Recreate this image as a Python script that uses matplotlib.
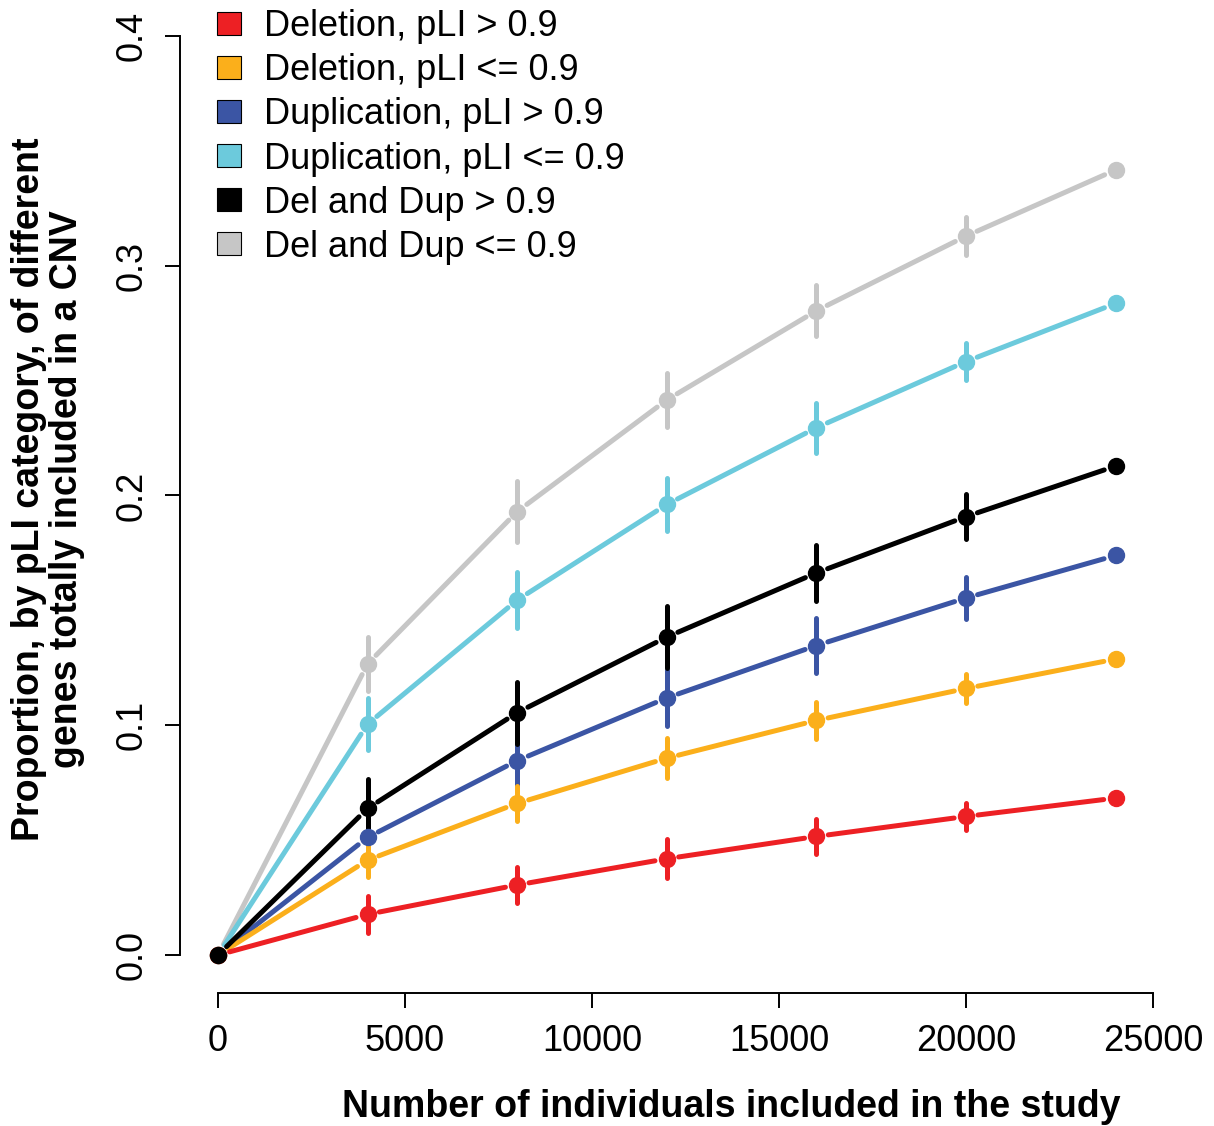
import matplotlib
matplotlib.use("Agg")
import matplotlib.pyplot as plt
from matplotlib.patches import Patch
import numpy as np

plt.rcParams["font.family"] = ["Liberation Sans", "DejaVu Sans"]

# sample sizes and proportions
n_indiv = [0, 4000, 8000, 12000, 16000, 20000, 24000]

del_hi = [0, 0.0177, 0.0305, 0.0419, 0.0516, 0.0603, 0.0683]
del_hi_err = [0, 0.0080, 0.0080, 0.0086, 0.0076, 0.0060, 0]
del_lo = [0, 0.0413, 0.0660, 0.0857, 0.1021, 0.1160, 0.1288]
del_lo_err = [0, 0.0075, 0.0076, 0.0086, 0.0082, 0.0065, 0]
dup_hi = [0, 0.0512, 0.0846, 0.1119, 0.1347, 0.1554, 0.1739]
dup_hi_err = [0, 0.0110, 0.0113, 0.0121, 0.0121, 0.0091, 0]
dup_lo = [0, 0.1005, 0.1545, 0.1961, 0.2295, 0.2583, 0.2836]
dup_lo_err = [0, 0.0112, 0.0122, 0.0117, 0.0109, 0.0082, 0]
both_hi = [0, 0.0638, 0.1055, 0.1384, 0.1663, 0.1908, 0.2128]
both_hi_err = [0, 0.0128, 0.0135, 0.0135, 0.0121, 0.0097, 0]
both_lo = [0, 0.1267, 0.1930, 0.2416, 0.2804, 0.3129, 0.3417]
both_lo_err = [0, 0.0116, 0.0131, 0.0117, 0.0111, 0.0083, 0]

labels = ["Deletion, pLI > 0.9", "Deletion, pLI <= 0.9",
          "Duplication, pLI > 0.9", "Duplication, pLI <= 0.9",
          "Del and Dup > 0.9", "Del and Dup <= 0.9"]
colors = ["#ED2024", "#FBAF1B", "#3B55A4", "#6CCADC", "#000000", "#C6C6C6"]
series = [del_hi, del_lo, dup_hi, dup_lo, both_hi, both_lo]
errors = [del_hi_err, del_lo_err, dup_hi_err, dup_lo_err, both_hi_err, both_lo_err]

LW = 3.6
GAP = 12  # px, R type="b" style gap between line and point

W, H = 1214, 1126
fig = plt.figure(figsize=(W / 100, H / 100), dpi=100)
ax = fig.add_axes([180 / W, 1 - 993 / H, (1153 - 180) / W, (993 - 36) / H])
ax.set_xlim(-1016, 25000)
ax.set_ylim(-0.01654, 0.4)

inv = ax.transData.inverted()


def gapped_line(xs, ys, color):
    pts = ax.transData.transform(np.column_stack([xs, ys]))
    for p, q in zip(pts[:-1], pts[1:]):
        d = q - p
        u = d / np.hypot(*d)
        a, b = inv.transform([p + u * GAP, q - u * GAP])
        ax.plot([a[0], b[0]], [a[1], b[1]], color=color, lw=LW,
                solid_capstyle="round", zorder=2)


# black drawn last so its dot sits on top at the origin
order = [5, 3, 2, 1, 0, 4]
for k in order:
    xs = np.array(n_indiv, float)
    ys = np.array(series[k])
    es = np.array(errors[k])
    gapped_line(xs, ys, colors[k])
    m = es > 0
    vl = ax.vlines(xs[m], ys[m] - es[m], ys[m] + es[m], color=colors[k],
                   lw=LW, zorder=3)
    vl.set_capstyle("round")
    ax.plot(xs, ys, "o", ms=11.5, color=colors[k], mec=colors[k], zorder=4)

for s in ["top", "right"]:
    ax.spines[s].set_visible(False)
ax.spines["left"].set_bounds(0, 0.4)
ax.spines["bottom"].set_bounds(0, 25000)
for s in ["left", "bottom"]:
    ax.spines[s].set_linewidth(1.4)

ax.set_xticks([0, 5000, 10000, 15000, 20000, 25000])
ax.set_yticks([0.0, 0.1, 0.2, 0.3, 0.4])
ax.set_yticklabels(["0.0", "0.1", "0.2", "0.3", "0.4"])
ax.tick_params(length=11, width=1.4, labelsize=26, pad=11)
ax.tick_params(axis="y", labelrotation=90)
for t in ax.get_yticklabels():
    t.set_va("center")

fig.text(731 / W, 1 - 1107 / H, "Number of individuals included in the study",
         ha="center", va="center", fontsize=27, fontweight="bold")
fig.text(48 / W, 1 - 489 / H,
         "Proportion, by pLI category, of different\ngenes totally included in a CNV",
         ha="center", va="center", rotation=90, fontsize=27,
         fontweight="bold", linespacing=1.1)

handles = [Patch(facecolor=c, edgecolor="black", lw=0.8) for c in colors]
ax.legend(handles, labels, loc="upper left",
          bbox_to_anchor=(203 / W, 1 + 5 / H), bbox_transform=fig.transFigure,
          frameon=False, fontsize=26, handlelength=0.65, handleheight=0.6,
          handletextpad=0.65, labelspacing=0.25, borderaxespad=0)

fig.savefig("out.png", dpi=100)
